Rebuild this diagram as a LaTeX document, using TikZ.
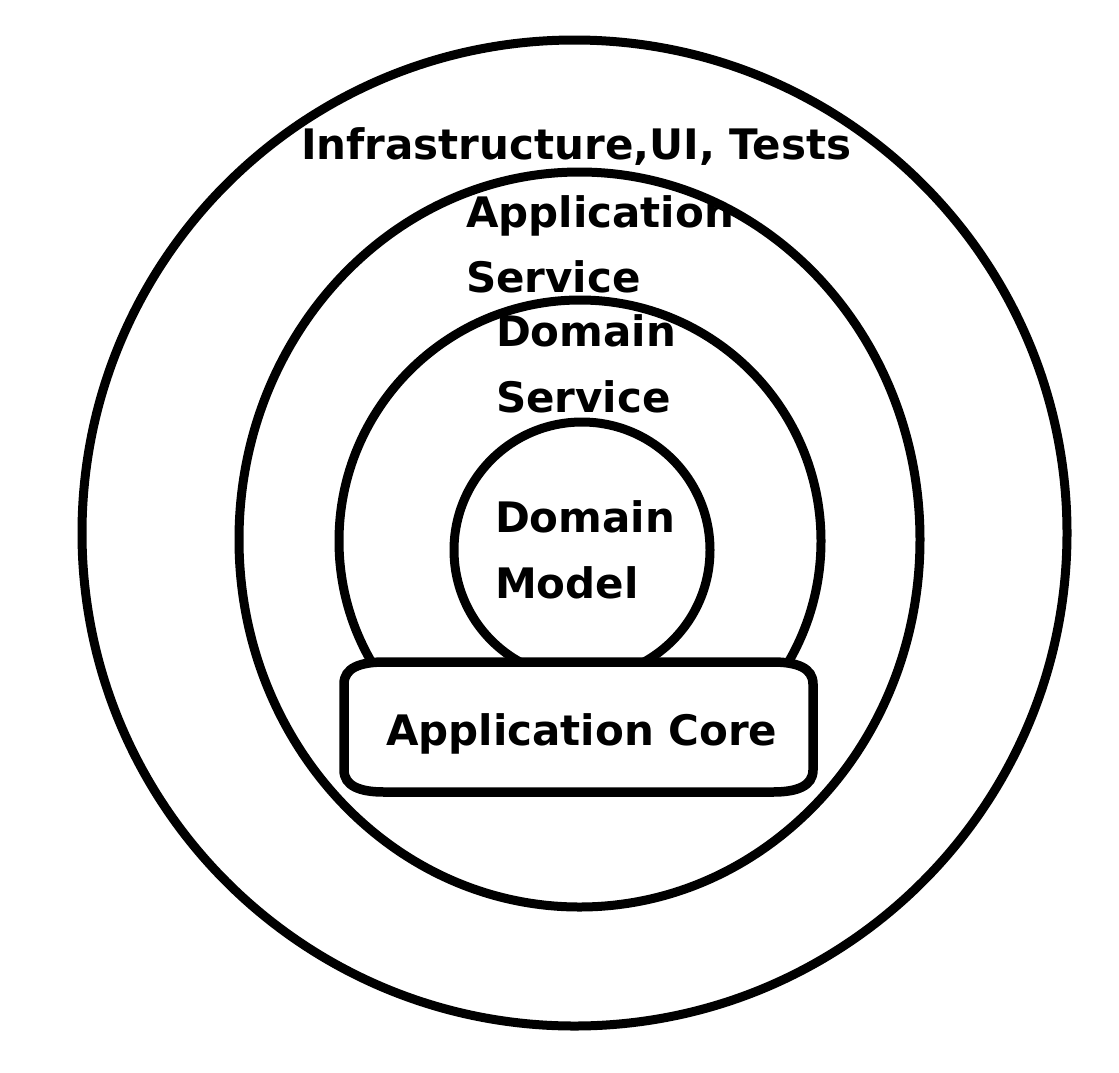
\documentclass[tikz,border=0pt]{standalone}
\usepackage{fontspec}
\setmainfont{DejaVu Sans}
\usetikzlibrary{shapes.geometric}
\begin{document}
\begin{tikzpicture}[x=1pt,y=-1pt,
  ring/.style={draw,line width=9pt,inner sep=0pt,outer sep=0pt},
  lbl/.style={anchor=base west,inner sep=0pt,outer sep=0pt,font=\fontsize{42}{42}\selectfont\bfseries}]
\useasboundingbox[fill=white] (0,0) rectangle (1119,1072);
% rings
\node[ring,ellipse,minimum width=985pt,minimum height=986pt] (outer) at (574.5,533) {};
\node[ring,ellipse,minimum width=681pt,minimum height=735pt] (appsvc) at (579.5,539.5) {};
\node[ring,circle,minimum size=482pt] (domsvc) at (580,541) {};
\node[ring,circle,minimum size=256pt] (model) at (582,550) {};
% application core box
\draw[line width=9.5pt,fill=white]
  (384,662) -- (773,662) .. controls (797,662) and (813,668) .. (813,684)
  -- (813,770) .. controls (813,786) and (797,792) .. (773,792)
  -- (384,792) .. controls (360,792) and (344,786) .. (344,770)
  -- (344,684) .. controls (344,668) and (360,662) .. (384,662) -- cycle;
% labels
\node[lbl] (t1) at (301,159) {Infrastructure,UI, Tests};
\node[lbl] (t2a) at (466,227) {Application};
\node[lbl] (t2b) at (466,292) {Service};
\node[lbl] (t3a) at (496,346) {Domain};
\node[lbl] (t3b) at (496,412) {Service};
\node[lbl] (t4a) at (495,532) {Domain};
\node[lbl] (t4b) at (495,598) {Model};
\node[lbl] (core) at (386,745) {Application Core};
\end{tikzpicture}
\end{document}
